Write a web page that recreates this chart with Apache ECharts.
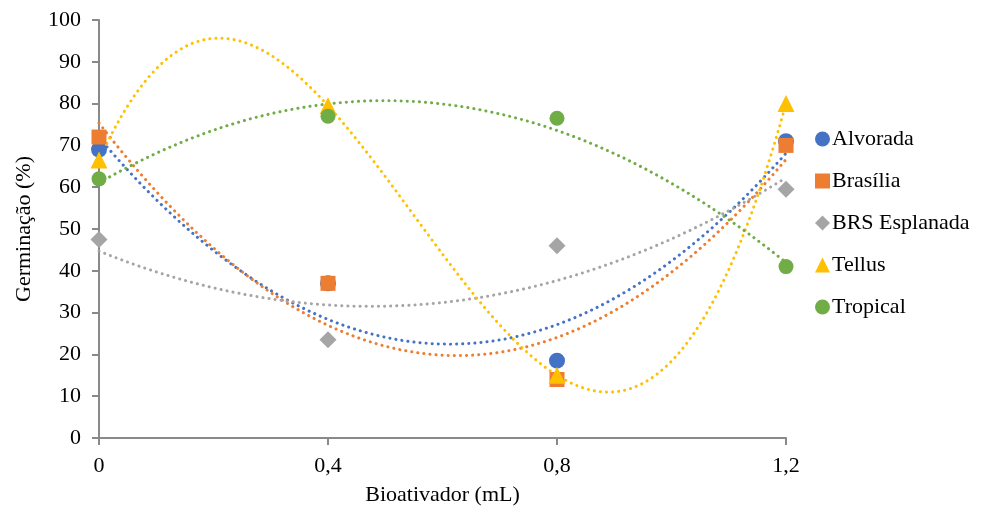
<!DOCTYPE html>
<html><head><meta charset="utf-8">
<script src="https://cdn.jsdelivr.net/npm/echarts@6/dist/echarts.min.js"></script>
<style>html,body{margin:0;padding:0;background:#fff}#c{width:985px;height:514px}</style>
</head><body><div id="c"></div>
<script>
var doses = [0, 0.4, 0.8, 1.2];
var xTicks = ['0', '0,4', '0,8', '1,2'];
var alvorada = [69, 37, 18.5, 71];
var brasilia = [72, 37, 14, 70];
var esplanada = [47.5, 23.5, 46, 59.5];
var tellus = [66.5, 79.5, 15, 80];
var tropical = [62, 77, 76.5, 41];
var names = ['Alvorada', 'Brasília', 'BRS Esplanada', 'Tellus', 'Tropical'];
var colors = ['#4472C4', '#ED7D31', '#A5A5A5', '#FFC000', '#70AD47'];
var symbols = ['circle', 'rect', 'diamond', 'triangle', 'circle'];
var symSizes = [16, 15, 17, 17, 15];
var degrees = [2, 2, 2, 3, 2];
var values = [alvorada, brasilia, esplanada, tellus, tropical];

function polyfit(xs, ys, deg) {
  var n = deg + 1, A = [], b = [];
  for (var i = 0; i < n; i++) {
    A.push([]); b.push(0);
    for (var j = 0; j < n; j++) {
      var s = 0; for (var k = 0; k < xs.length; k++) s += Math.pow(xs[k], i + j);
      A[i].push(s);
    }
    for (var k2 = 0; k2 < xs.length; k2++) b[i] += ys[k2] * Math.pow(xs[k2], i);
  }
  for (var c = 0; c < n; c++) {
    var p = c;
    for (var r = c + 1; r < n; r++) if (Math.abs(A[r][c]) > Math.abs(A[p][c])) p = r;
    var t = A[c]; A[c] = A[p]; A[p] = t; var tb = b[c]; b[c] = b[p]; b[p] = tb;
    for (var r2 = c + 1; r2 < n; r2++) {
      var f = A[r2][c] / A[c][c];
      for (var cc = c; cc < n; cc++) A[r2][cc] -= f * A[c][cc];
      b[r2] -= f * b[c];
    }
  }
  var coef = new Array(n);
  for (var i2 = n - 1; i2 >= 0; i2--) {
    var s2 = b[i2];
    for (var j2 = i2 + 1; j2 < n; j2++) s2 -= A[i2][j2] * coef[j2];
    coef[i2] = s2 / A[i2][i2];
  }
  return coef;
}
function trend(ys, deg) {
  var coef = polyfit(doses, ys, deg), out = [];
  for (var i = 0; i <= 120; i++) {
    var x = i * 0.01, y = 0;
    for (var k = 0; k < coef.length; k++) y += coef[k] * Math.pow(x, k);
    out.push([x, y]);
  }
  return out;
}

var series = [];
values.forEach(function (v, i) {
  series.push({
    name: names[i] + ' trend', type: 'line', data: trend(v, degrees[i]),
    showSymbol: false, silent: true, z: 1, smooth: false,
    lineStyle: { color: colors[i], width: 3, type: [0.1, 6], cap: 'round' }
  });
});
values.forEach(function (v, i) {
  series.push({
    name: names[i], type: 'scatter', z: 3,
    data: doses.map(function (d, j) { return [d, v[j]]; }),
    symbol: symbols[i], symbolSize: symSizes[i],
    itemStyle: { color: colors[i], opacity: 1 }
  });
});

var chart = echarts.init(document.getElementById('c'));
chart.setOption({
  animation: false,
  textStyle: { fontFamily: 'Liberation Serif' },
  grid: { left: 99, right: 199, top: 20, bottom: 76 },
  legend: {
    data: names, orient: 'vertical', left: 810, top: 123, itemGap: 20,
    itemWidth: 15, itemHeight: 15,
    textStyle: { fontFamily: 'Liberation Serif', fontSize: 22, color: '#000', padding: [0, 0, 0, -3] }
  },
  xAxis: {
    type: 'value', min: 0, max: 1.2, interval: 0.4,
    name: 'Bioativador (mL)', nameLocation: 'middle', nameGap: 46,
    nameTextStyle: { fontFamily: 'Liberation Serif', fontSize: 22, color: '#000' },
    axisLine: { lineStyle: { color: '#898989', width: 2 } },
    axisTick: { show: true, length: 7, lineStyle: { color: '#898989', width: 2 } },
    axisLabel: { fontFamily: 'Liberation Serif', fontSize: 22, color: '#000', margin: 17,
      formatter: function (v) { var i = Math.round(v / 0.4); return xTicks[i]; } },
    splitLine: { show: false }
  },
  yAxis: {
    type: 'value', min: 0, max: 100, interval: 10,
    name: 'Germinação (%)', nameLocation: 'middle', nameGap: 64,
    nameTextStyle: { fontFamily: 'Liberation Serif', fontSize: 22, color: '#000' },
    axisLine: { show: true, lineStyle: { color: '#898989', width: 2 } },
    axisTick: { show: true, length: 7, lineStyle: { color: '#898989', width: 2 } },
    axisLabel: { fontFamily: 'Liberation Serif', fontSize: 22, color: '#000', margin: 18 },
    splitLine: { show: false }
  },
  series: series
});
</script></body></html>
